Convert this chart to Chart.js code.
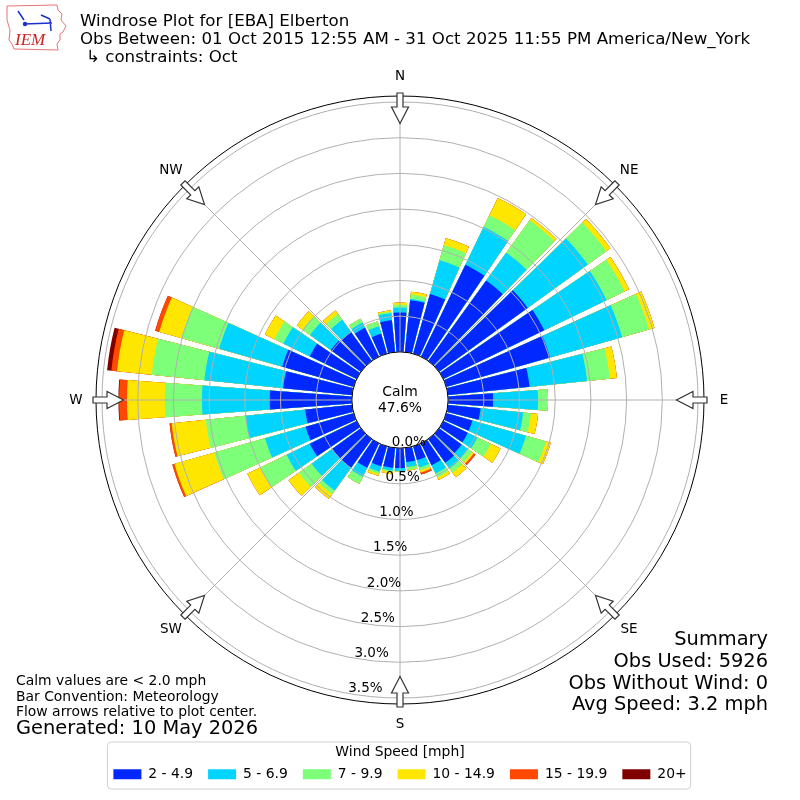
<!DOCTYPE html>
<html>
<head>
<meta charset="utf-8">
<title>Windrose Plot for [EBA] Elberton</title>
<script src="https://cdn.jsdelivr.net/npm/chart.js@4.4.1/dist/chart.umd.min.js"></script>
<style>
  html, body { margin: 0; padding: 0; background: #fff; }
  canvas { display: block; }
</style>
</head>
<body>
<canvas id="windrose" width="800" height="800"></canvas>
<script>
// wind direction sectors, degrees (direction the wind comes from)
const directions = [0, 10, 20, 30, 40, 50, 60, 70, 80, 90, 100, 110, 120, 130, 140, 150, 160, 170,
                    180, 190, 200, 210, 220, 230, 240, 250, 260, 270, 280, 290, 300, 310, 320, 330, 340, 350];

// percent of all obs, one array per speed bin
const speed2to5   = [0.55, 0.73, 0.87, 1.43, 1.39, 1.53, 1.57, 1.51, 1.15, 0.63, 0.46, 0.38, 0.38, 0.39, 0.41, 0.34, 0.20, 0.20,
                     0.28, 0.28, 0.29, 0.38, 0.50, 0.50, 0.73, 0.70, 0.66, 1.15, 0.97, 1.04, 0.73, 0.52, 0.50, 0.45, 0.29, 0.45];
const speed5to7   = [0.07, 0.02, 0.49, 0.59, 0.48, 1.04, 0.97, 1.05, 0.81, 0.63, 0.60, 0.78, 0.15, 0.11, 0.10, 0.13, 0.11, 0.07,
                     0.04, 0.04, 0.08, 0.14, 0.39, 0.35, 0.36, 0.59, 0.84, 0.95, 1.11, 0.92, 0.41, 0.36, 0.21, 0.08, 0.11, 0.10];
const speed7to10  = [0.04, 0.06, 0.22, 0.18, 0.56, 0.32, 0.28, 0.39, 0.32, 0.13, 0.11, 0.29, 0.21, 0.07, 0.07, 0.06, 0.04, 0.04,
                     0.01, 0.02, 0.03, 0.11, 0.06, 0.22, 0.41, 0.74, 0.56, 0.52, 0.74, 0.55, 0.14, 0.13, 0.10, 0.06, 0.07, 0.02];
const speed10to15 = [0.03, 0.04, 0.10, 0.27, 0.04, 0.07, 0.07, 0.08, 0.10, 0.01, 0.10, 0.07, 0.15, 0.03, 0.08, 0.04, 0.03, 0.01,
                     0.00, 0.03, 0.03, 0.00, 0.08, 0.18, 0.20, 0.58, 0.48, 0.53, 0.49, 0.32, 0.15, 0.10, 0.06, 0.00, 0.00, 0.02];
const speed15to20 = [0, 0, 0, 0, 0, 0, 0, 0, 0, 0, 0, 0, 0, 0.03, 0, 0, 0.03, 0,
                     0, 0, 0, 0, 0, 0, 0, 0.03, 0.03, 0.11, 0.08, 0.06, 0, 0, 0, 0, 0, 0];
const speed20plus = [0, 0, 0, 0, 0, 0, 0, 0, 0, 0, 0, 0, 0, 0, 0, 0, 0, 0,
                     0, 0, 0, 0, 0, 0, 0, 0, 0, 0.01, 0.06, 0, 0, 0, 0, 0, 0, 0];

const binLabels = ['2 - 4.9', '5 - 6.9', '7 - 9.9', '10 - 14.9', '15 - 19.9', '20+'];
const binColors = ['#0028ff', '#00d4ff', '#7dff7a', '#ffe600', '#ff4800', '#800000'];
const rTicks = [0, 0.5, 1, 1.5, 2, 2.5, 3, 3.5];
const compass = ['N', 'NE', 'E', 'SE', 'S', 'SW', 'W', 'NW'];
const calmPct = 47.6;

const BAR = 8.4;   // degrees of each sector that gets a bar
const GAP = 1.6;   // white gap between sectors
const FONT = '"DejaVu Sans", sans-serif';

Chart.defaults.font.family = FONT;

const bins = [speed2to5, speed5to7, speed7to10, speed10to15, speed15to20, speed20plus];

// polar area doesn't stack, so every dataset carries the running total
// and the lower bins get painted over the higher ones (dataset 0 is drawn last)
const labels = [];
directions.forEach(d => { labels.push(d + '°'); labels.push(''); });

const datasets = bins.map((bin, k) => {
  const data = [];
  directions.forEach((d, i) => {
    let total = 0;
    for (let j = 0; j <= k; j++) total += bins[j][i];
    data.push(total);
    data.push(0); // gap slot, hidden under the calm circle
  });
  return {
    label: binLabels[k],
    data: data,
    backgroundColor: binColors[k],
    borderWidth: 0,
    angle: (ctx) => ctx.dataIndex % 2 ? GAP : BAR
  };
});

function deg2xy(cx, cy, deg, rad) {
  const a = deg * Math.PI / 180;
  return [cx + rad * Math.sin(a), cy - rad * Math.cos(a)];
}

const decorations = {
  id: 'decorations',
  afterDraw(chart) {
    const ctx = chart.ctx;
    const sc = chart.scales.r;
    const cx = sc.xCenter, cy = sc.yCenter;
    const rCalm = sc.getDistanceFromCenterForValue(0);
    const rOut = sc.drawingArea;
    ctx.save();

    // spokes every 45 degrees
    ctx.strokeStyle = '#b0b0b0';
    ctx.lineWidth = 1;
    for (let k = 0; k < 8; k++) {
      const p0 = deg2xy(cx, cy, k * 45, rCalm), p1 = deg2xy(cx, cy, k * 45, rOut);
      ctx.beginPath(); ctx.moveTo(p0[0], p0[1]); ctx.lineTo(p1[0], p1[1]); ctx.stroke();
    }

    // calm circle
    ctx.beginPath();
    ctx.arc(cx, cy, rCalm, 0, Math.PI * 2);
    ctx.fillStyle = '#fff'; ctx.fill();
    ctx.strokeStyle = '#000'; ctx.stroke();
    ctx.fillStyle = '#000';
    ctx.font = '13.9px ' + FONT;
    ctx.textAlign = 'center'; ctx.textBaseline = 'middle';
    ctx.fillText('Calm', cx, cy - 8);
    ctx.fillText(calmPct.toFixed(1) + '%', cx, cy + 8);

    // outer frame
    ctx.beginPath();
    ctx.arc(cx, cy, rOut, 0, Math.PI * 2);
    ctx.strokeStyle = '#000'; ctx.lineWidth = 1; ctx.stroke();

    // flow arrows pointing at the centre
    for (let k = 0; k < 8; k++) {
      const deg = k * 45;
      const a = deg * Math.PI / 180;
      const ux = Math.sin(a), uy = -Math.cos(a), vx = Math.cos(a), vy = Math.sin(a);
      const P = (r, w) => [cx + ux * (rOut + r) + vx * w, cy + uy * (rOut + r) + vy * w];
      const pts = [P(3, -3), P(-11, -3), P(-11, -8.5), P(-27.5, 0), P(-11, 8.5), P(-11, 3), P(3, 3)];
      ctx.beginPath();
      ctx.moveTo(pts[0][0], pts[0][1]);
      pts.slice(1).forEach(p => ctx.lineTo(p[0], p[1]));
      ctx.closePath();
      ctx.fillStyle = '#fff'; ctx.fill();
      ctx.strokeStyle = '#333'; ctx.lineWidth = 1.2; ctx.stroke();
      const lp = deg2xy(cx, cy, deg, rOut + 20);
      ctx.fillStyle = '#000';
      ctx.font = '13.5px ' + FONT;
      ctx.textAlign = 'center'; ctx.textBaseline = 'middle';
      ctx.fillText(compass[k], lp[0], lp[1]);
    }

    // radial tick labels, set along 190 degrees
    ctx.font = '13.5px ' + FONT;
    ctx.textAlign = 'left'; ctx.textBaseline = 'alphabetic';
    rTicks.forEach(v => {
      const p = deg2xy(cx, cy, 190, sc.getDistanceFromCenterForValue(v));
      ctx.fillText(v.toFixed(1) + '%', p[0], p[1] - 1.5);
    });

    // header
    ctx.font = '16.67px ' + FONT;
    ctx.fillText('Windrose Plot for [EBA] Elberton', 80, 26);
    ctx.fillText('Obs Between: 01 Oct 2015 12:55 AM - 31 Oct 2025 11:55 PM America/New_York', 80, 44);
    ctx.fillText('\u21b3 constraints: Oct', 86, 62);

    // footnotes
    ctx.textBaseline = 'middle';
    ctx.font = '13.9px ' + FONT;
    ctx.fillText('Calm values are < 2.0 mph', 16, 681);
    ctx.fillText('Bar Convention: Meteorology', 16, 697);
    ctx.fillText('Flow arrows relative to plot center.', 16, 712);
    ctx.font = '19.4px ' + FONT;
    ctx.fillText('Generated: 10 May 2026', 16, 729);

    ctx.textAlign = 'right';
    ctx.fillText('Summary', 768, 640);
    ctx.fillText('Obs Used: 5926', 768, 662);
    ctx.fillText('Obs Without Wind: 0', 768, 684);
    ctx.fillText('Avg Speed: 3.2 mph', 768, 705);

    // legend frame
    const lg = chart.legend;
    const hb = lg.legendHitBoxes;
    if (hb && hb.length) {
      const last = hb[hb.length - 1];
      const x0 = hb[0].left - 6, x1 = last.left + last.width + 4;
      const y0 = lg.top + 38, y1 = lg.top + 85, rr = 4;
      ctx.beginPath();
      ctx.moveTo(x0 + rr, y0);
      ctx.lineTo(x1 - rr, y0); ctx.arcTo(x1, y0, x1, y0 + rr, rr);
      ctx.lineTo(x1, y1 - rr); ctx.arcTo(x1, y1, x1 - rr, y1, rr);
      ctx.lineTo(x0 + rr, y1); ctx.arcTo(x0, y1, x0, y1 - rr, rr);
      ctx.lineTo(x0, y0 + rr); ctx.arcTo(x0, y0, x0 + rr, y0, rr);
      ctx.strokeStyle = '#d0d0d0'; ctx.lineWidth = 1; ctx.stroke();
    }

    // IEM logo, roughly
    ctx.beginPath();
    const iowa = [[7, 6], [57, 5], [58, 10], [62, 14], [61, 20], [66, 26], [63, 32], [60, 34], [60, 40], [57, 44],
                  [58, 50], [14, 49], [12, 44], [9, 40], [10, 30], [7, 20]];
    ctx.moveTo(iowa[0][0], iowa[0][1]);
    iowa.slice(1).forEach(p => ctx.lineTo(p[0], p[1]));
    ctx.closePath();
    ctx.strokeStyle = '#e05050'; ctx.lineWidth = 0.8; ctx.stroke();
    ctx.strokeStyle = '#1a2fd0'; ctx.lineWidth = 1.5;
    ctx.beginPath();
    ctx.moveTo(24, 24); ctx.lineTo(52, 23);
    ctx.moveTo(18, 11); ctx.lineTo(24, 20);
    ctx.moveTo(41, 15); ctx.lineTo(50, 19);
    ctx.moveTo(50, 19); ctx.lineTo(51, 31);
    ctx.stroke();
    ctx.fillStyle = '#1a2fd0';
    ctx.beginPath(); ctx.arc(25, 24, 2.2, 0, Math.PI * 2); ctx.fill();
    ctx.fillStyle = '#d02020';
    ctx.font = 'italic 17px "Liberation Serif", serif';
    ctx.textAlign = 'left'; ctx.textBaseline = 'alphabetic';
    ctx.fillText('IEM', 15, 45);

    ctx.restore();
  }
};

new Chart(document.getElementById('windrose'), {
  type: 'polarArea',
  data: { labels: labels, datasets: datasets },
  options: {
    responsive: false,
    animation: false,
    events: [],
    layout: { padding: { top: 96, left: 96, right: 96, bottom: 8.7 } },
    scales: {
      r: {
        min: -0.674,   // leaves room for the calm circle in the middle
        max: 3.584,
        startAngle: -BAR / 2,
        ticks: { display: false, z: 1 },
        grid: { circular: true, color: '#b0b0b0', lineWidth: 1, z: 1 },
        angleLines: { display: false },
        pointLabels: { display: false },
        afterBuildTicks: (scale) => { scale.ticks = rTicks.map(v => ({ value: v })); }
      }
    },
    plugins: {
      tooltip: { enabled: false },
      legend: {
        position: 'bottom',
        title: {
          display: true,
          text: 'Wind Speed [mph]',
          color: '#000',
          font: { size: 13.9, lineHeight: 1 },
          padding: { top: 41, bottom: -6.5 }
        },
        labels: {
          boxWidth: 28,
          boxHeight: 10,
          padding: 15,
          color: '#000',
          font: { size: 13.9 },
          generateLabels: (chart) => chart.data.datasets.map((ds, i) => ({
            text: ds.label,
            fillStyle: ds.backgroundColor,
            strokeStyle: ds.backgroundColor,
            fontColor: '#000',
            lineWidth: 0,
            hidden: false,
            datasetIndex: i
          }))
        }
      }
    }
  },
  plugins: [decorations]
});
</script>
</body>
</html>
